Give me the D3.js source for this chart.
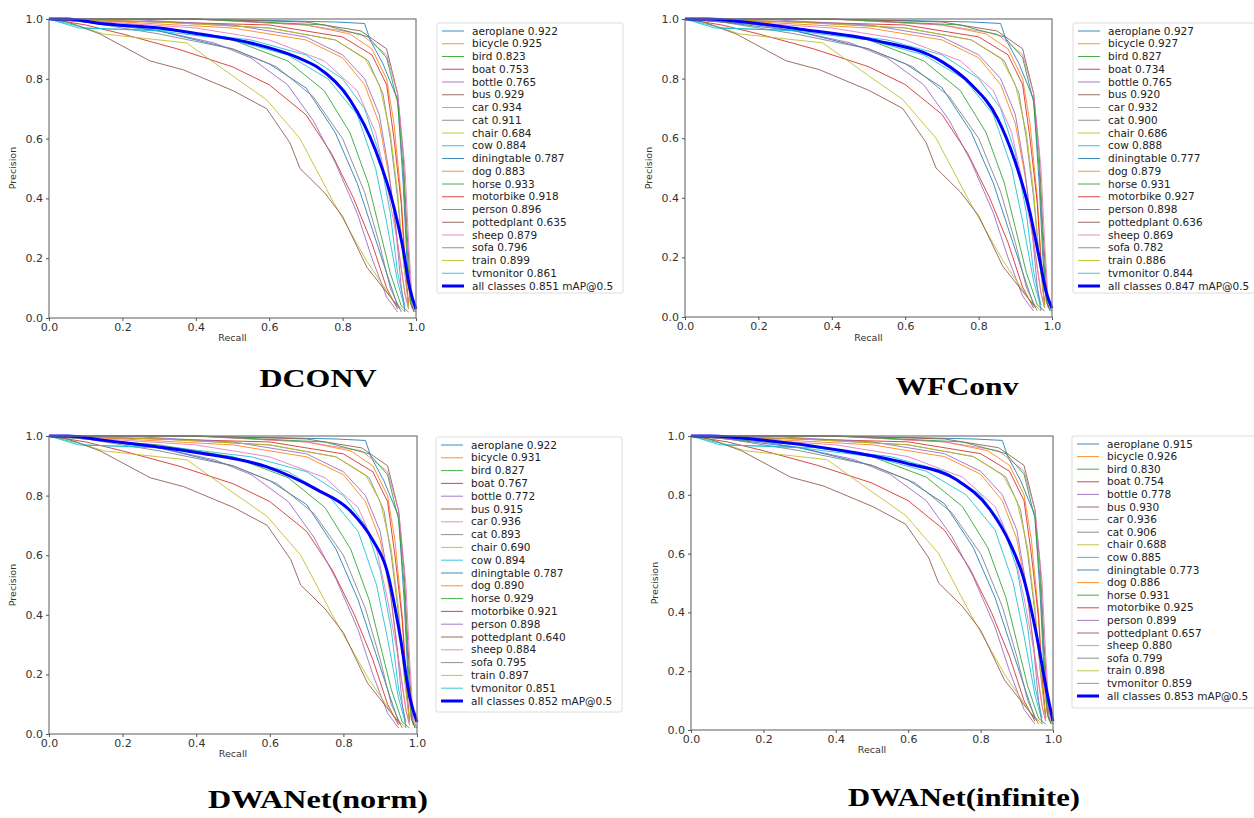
<!DOCTYPE html>
<html>
<head>
<meta charset="utf-8">
<script src="https://cdn.jsdelivr.net/npm/d3@7"></script>
<style>
  body { margin: 0; background: #fff; }
  text { font-family: "DejaVu Sans", sans-serif; }
</style>
</head>
<body>
<svg id="chart" width="1254" height="818"></svg>
<script>
// ---- data ----
var classNames = ["aeroplane", "bicycle", "bird", "boat", "bottle", "bus", "car", "cat", "chair", "cow",
  "diningtable", "dog", "horse", "motorbike", "person", "pottedplant", "sheep", "sofa", "train", "tvmonitor"];
var panelTitles = ["DCONV", "WFConv", "DWANet(norm)", "DWANet(infinite)"];
var tickValues = [0, 0.2, 0.4, 0.6, 0.8, 1.0];

var apDCONV = [0.922, 0.925, 0.823, 0.753, 0.765, 0.929, 0.934, 0.911, 0.684, 0.884,
  0.787, 0.883, 0.933, 0.918, 0.896, 0.635, 0.879, 0.796, 0.899, 0.861];
var apWFConv = [0.927, 0.927, 0.827, 0.734, 0.765, 0.920, 0.932, 0.900, 0.686, 0.888,
  0.777, 0.879, 0.931, 0.927, 0.898, 0.636, 0.869, 0.782, 0.886, 0.844];
var apNorm = [0.922, 0.931, 0.827, 0.767, 0.772, 0.915, 0.936, 0.893, 0.690, 0.894,
  0.787, 0.890, 0.929, 0.921, 0.898, 0.640, 0.884, 0.795, 0.897, 0.851];
var apInfinite = [0.915, 0.926, 0.830, 0.754, 0.778, 0.930, 0.936, 0.906, 0.688, 0.885,
  0.773, 0.886, 0.931, 0.925, 0.899, 0.657, 0.880, 0.799, 0.898, 0.859];
var mapValues = [0.851, 0.847, 0.852, 0.853];

// per-class PR curves [recall, precision] (shapes are near-identical across the four runs)
var prAeroplane = [[0,1],[0.3,1],[0.6,0.995],[0.78,0.99],[0.86,0.985],[0.875,0.93],[0.91,0.85],[0.95,0.73],[0.965,0.45],[0.975,0.2],[0.985,0.05],[0.995,0.02]];
var prBicycle = [[0,1],[0.4,1],[0.7,0.98],[0.82,0.95],[0.88,0.9],[0.92,0.8],[0.94,0.65],[0.96,0.4],[0.97,0.2],[0.985,0.05],[1,0.02]];
var prBird = [[0,1],[0.1,0.99],[0.3,0.97],[0.5,0.93],[0.65,0.86],[0.75,0.76],[0.82,0.62],[0.87,0.45],[0.9,0.3],[0.93,0.15],[0.96,0.04],[0.98,0.02]];
var prBoat = [[0,1],[0.1,0.98],[0.2,0.95],[0.35,0.9],[0.5,0.84],[0.6,0.78],[0.7,0.68],[0.77,0.55],[0.83,0.4],[0.88,0.25],[0.92,0.1],[0.95,0.03]];
var prBottle = [[0,1],[0.15,0.99],[0.3,0.96],[0.45,0.92],[0.55,0.87],[0.65,0.78],[0.72,0.66],[0.78,0.52],[0.84,0.35],[0.88,0.2],[0.92,0.07],[0.95,0.02]];
var prBus = [[0,1],[0.4,1],[0.7,0.99],[0.85,0.96],[0.92,0.9],[0.95,0.75],[0.965,0.55],[0.975,0.3],[0.985,0.1],[0.99,0.03]];
var prCar = [[0,1],[0.4,1],[0.7,0.98],[0.85,0.95],[0.92,0.88],[0.95,0.75],[0.97,0.5],[0.98,0.25],[0.99,0.05],[1,0.02]];
var prCat = [[0,1],[0.3,0.99],[0.6,0.97],[0.78,0.93],[0.87,0.86],[0.91,0.75],[0.93,0.6],[0.95,0.4],[0.965,0.2],[0.98,0.04]];
var prChair = [[0,1],[0.05,0.99],[0.148,0.95],[0.375,0.92],[0.5,0.81],[0.593,0.73],[0.684,0.6],[0.774,0.39],[0.866,0.19],[0.937,0.06],[0.97,0.02]];
var prCow = [[0,1],[0.08,0.97],[0.35,0.96],[0.55,0.93],[0.7,0.88],[0.8,0.8],[0.86,0.7],[0.9,0.55],[0.93,0.35],[0.95,0.15],[0.97,0.04]];
var prDiningtable = [[0,1],[0.1,0.99],[0.3,0.96],[0.5,0.9],[0.6,0.85],[0.7,0.77],[0.78,0.62],[0.84,0.45],[0.88,0.3],[0.92,0.15],[0.95,0.04]];
var prDog = [[0,1],[0.2,0.99],[0.5,0.97],[0.7,0.93],[0.8,0.87],[0.86,0.78],[0.9,0.65],[0.93,0.45],[0.95,0.25],[0.97,0.08],[0.98,0.03]];
var prHorse = [[0,1],[0.4,1],[0.75,0.98],[0.87,0.94],[0.92,0.87],[0.95,0.72],[0.965,0.5],[0.975,0.25],[0.985,0.05],[0.995,0.02]];
var prMotorbike = [[0,1],[0.3,0.99],[0.6,0.98],[0.8,0.94],[0.88,0.88],[0.92,0.78],[0.94,0.6],[0.96,0.38],[0.97,0.18],[0.98,0.04]];
var prPerson = [[0,1],[0.2,1],[0.5,0.98],[0.7,0.94],[0.8,0.88],[0.86,0.8],[0.9,0.68],[0.925,0.5],[0.945,0.3],[0.96,0.1],[0.97,0.02]];
var prPottedplant = [[0,1],[0.05,0.99],[0.139,0.95],[0.275,0.86],[0.366,0.83],[0.502,0.76],[0.593,0.7],[0.657,0.585],[0.684,0.5],[0.75,0.42],[0.8,0.34],[0.866,0.17],[0.956,0.03]];
var prSheep = [[0,1],[0.15,0.99],[0.4,0.97],[0.6,0.93],[0.75,0.86],[0.84,0.76],[0.89,0.62],[0.92,0.45],[0.95,0.25],[0.97,0.08],[0.98,0.03]];
var prSofa = [[0,1],[0.1,0.99],[0.3,0.95],[0.5,0.9],[0.62,0.84],[0.72,0.74],[0.8,0.6],[0.86,0.42],[0.9,0.25],[0.93,0.1],[0.96,0.02]];
var prTrain = [[0,1],[0.3,0.99],[0.6,0.97],[0.78,0.93],[0.86,0.87],[0.9,0.78],[0.93,0.62],[0.95,0.42],[0.965,0.2],[0.98,0.04]];
var prTvmonitor = [[0,1],[0.1,0.97],[0.3,0.96],[0.5,0.93],[0.65,0.88],[0.76,0.8],[0.84,0.68],[0.89,0.5],[0.92,0.32],[0.95,0.12],[0.97,0.03]];

var classCurves = [prAeroplane, prBicycle, prBird, prBoat, prBottle, prBus, prCar, prCat, prChair, prCow,
  prDiningtable, prDog, prHorse, prMotorbike, prPerson, prPottedplant, prSheep, prSofa, prTrain, prTvmonitor];

// "all classes" curve of each run
var allDCONV = [[0,1],[0.05,1],[0.14,0.985],[0.3,0.97],[0.41,0.95],[0.55,0.92],[0.68,0.87],[0.73,0.84],[0.82,0.73],[0.89,0.56],[0.94,0.37],[0.965,0.23],[0.983,0.1],[1,0.03]];
var allWFConv = [[0,1],[0.06,1],[0.12,0.995],[0.33,0.963],[0.51,0.93],[0.7,0.857],[0.78,0.78],[0.85,0.67],[0.9,0.52],[0.94,0.35],[0.965,0.2],[0.985,0.08],[1,0.03]];
var allNorm = [[0,1],[0.05,1],[0.139,0.987],[0.41,0.943],[0.59,0.897],[0.728,0.82],[0.818,0.75],[0.88,0.65],[0.918,0.55],[0.954,0.33],[0.981,0.12],[1,0.04]];
var allInfinite = [[0,1],[0.05,1],[0.135,0.993],[0.41,0.952],[0.596,0.907],[0.735,0.85],[0.826,0.75],[0.881,0.635],[0.918,0.52],[0.955,0.32],[0.983,0.13],[1,0.03]];

var apPerPanel = [apDCONV, apWFConv, apNorm, apInfinite];
var allPerPanel = [allDCONV, allWFConv, allNorm, allInfinite];

// ---- layout ----
var tab10 = ["#1f77b4", "#ff7f0e", "#2ca02c", "#d62728", "#9467bd", "#8c564b", "#e377c2", "#7f7f7f", "#bcbd22", "#17becf"];
var layout = [
  {x0: 49, x1: 416, y0: 19, y1: 318, lx: 437, ly: 23, lw: 186, lh: 270, step: 12.75, tx: 318, ty: 387, tl: 117, py: 168, ry: 341},
  {x0: 685, x1: 1052, y0: 19, y1: 317, lx: 1073, ly: 23, lw: 195, lh: 270, step: 12.75, tx: 957, ty: 395, tl: 123, py: 168, ry: 341},
  {x0: 49, x1: 417, y0: 436, y1: 734, lx: 436, ly: 437, lw: 186, lh: 275, step: 12.8, tx: 318, ty: 808, tl: 220, py: 585, ry: 757},
  {x0: 691, x1: 1053, y0: 436, y1: 730, lx: 1072, ly: 436, lw: 195, lh: 272, step: 12.6, tx: 964, ty: 806, tl: 232, py: 583, ry: 753}
];

var svg = d3.select("#chart");

layout.forEach(function(L, p) {
  var x = d3.scaleLinear().domain([0, 1]).range([L.x0, L.x1]);
  var y = d3.scaleLinear().domain([0, 1]).range([L.y1, L.y0]);
  var g = svg.append("g").attr("class", "panel");

  var line = d3.line()
    .x(function(d) { return x(d[0]); })
    .y(function(d) { return y(d[1]); });
  var smooth = d3.line()
    .curve(d3.curveMonotoneX)
    .x(function(d) { return x(d[0]); })
    .y(function(d) { return y(d[1]); });

  // class curves
  g.selectAll(".pr")
    .data(classCurves)
    .enter().append("path")
      .attr("class", "pr")
      .attr("d", line)
      .attr("fill", "none")
      .attr("stroke", function(d, i) { return tab10[i % 10]; })
      .attr("stroke-width", 1)
      .attr("opacity", 0.85);

  // all classes
  g.append("path")
    .attr("d", smooth(allPerPanel[p]))
    .attr("fill", "none")
    .attr("stroke", "#0000ff")
    .attr("stroke-width", 3);

  // frame + axes
  g.append("rect")
    .attr("x", L.x0).attr("y", L.y0)
    .attr("width", L.x1 - L.x0).attr("height", L.y1 - L.y0)
    .attr("fill", "none").attr("stroke", "#777").attr("stroke-width", 1.2);

  var xa = g.append("g")
    .attr("transform", "translate(0," + L.y1 + ")")
    .call(d3.axisBottom(x).tickValues(tickValues).tickFormat(d3.format(".1f")).tickSize(3).tickPadding(2));
  var ya = g.append("g")
    .attr("transform", "translate(" + L.x0 + ",0)")
    .call(d3.axisLeft(y).tickValues(tickValues).tickFormat(d3.format(".1f")).tickSize(3).tickPadding(3));
  [xa, ya].forEach(function(a) {
    a.select(".domain").remove();
    a.selectAll("line").attr("stroke", "#555");
    a.selectAll("text").attr("fill", "#333").style("font-size", "11px").style("font-family", "DejaVu Sans");
  });

  g.append("text")
    .attr("x", (L.x0 + L.x1) / 2).attr("y", L.ry)
    .attr("text-anchor", "middle")
    .attr("fill", "#333")
    .style("font-size", "9.5px")
    .text("Recall");
  g.append("text")
    .attr("transform", "translate(" + (L.x0 - 33) + "," + L.py + ") rotate(-90)")
    .attr("text-anchor", "middle")
    .attr("fill", "#333")
    .style("font-size", "9.5px")
    .text("Precision");

  // legend
  var lg = g.append("g").attr("transform", "translate(" + L.lx + "," + L.ly + ")");
  lg.append("rect")
    .attr("width", L.lw).attr("height", L.lh)
    .attr("rx", 2)
    .attr("fill", "#fff").attr("stroke", "#ddd");
  var items = classNames.map(function(c, i) {
    return {label: c + " " + apPerPanel[p][i].toFixed(3), color: tab10[i % 10], w: 1, op: 0.85};
  });
  items.push({label: "all classes " + mapValues[p].toFixed(3) + " mAP@0.5", color: "#0000ff", w: 3, op: 1});
  var row = lg.selectAll(".item")
    .data(items)
    .enter().append("g")
      .attr("class", "item")
      .attr("transform", function(d, i) { return "translate(0," + (8 + i * L.step) + ")"; });
  row.append("line")
    .attr("x1", 5).attr("x2", 27)
    .attr("stroke", function(d) { return d.color; })
    .attr("stroke-width", function(d) { return d.w; })
    .attr("opacity", function(d) { return d.op; });
  row.append("text")
    .attr("x", 35).attr("dy", "0.35em")
    .attr("fill", "#222")
    .style("font-size", "10.5px")
    .text(function(d) { return d.label; });

  // panel title
  svg.append("text")
    .attr("x", L.tx).attr("y", L.ty)
    .attr("text-anchor", "middle")
    .attr("textLength", L.tl)
    .attr("lengthAdjust", "spacingAndGlyphs")
    .style("font-family", "'Liberation Serif', 'Times New Roman', serif")
    .style("font-weight", "bold")
    .style("font-size", "26px")
    .attr("fill", "#000")
    .text(panelTitles[p]);
});
</script>
</body>
</html>
